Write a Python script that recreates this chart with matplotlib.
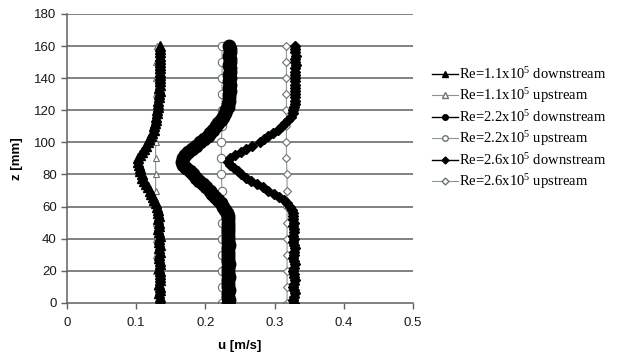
import matplotlib
matplotlib.use('Agg')
import matplotlib.pyplot as plt
from matplotlib.lines import Line2D

# Profile heights, mm
z_down = list(range(0, 162, 2))
z_up = list(range(0, 170, 10))

# Re=1.1x10^5
u11_down = [0.134, 0.135, 0.134, 0.133, 0.134, 0.134, 0.133, 0.134, 0.135, 0.134,
            0.134, 0.133, 0.134, 0.134, 0.133, 0.133, 0.134, 0.133, 0.134, 0.133,
            0.133, 0.134, 0.133, 0.132, 0.133, 0.133, 0.132, 0.133, 0.132, 0.131,
            0.130, 0.128, 0.126, 0.124, 0.122, 0.120, 0.117, 0.114, 0.111, 0.109,
            0.108, 0.106, 0.105, 0.104, 0.103, 0.103, 0.105, 0.108, 0.111, 0.114,
            0.117, 0.119, 0.121, 0.123, 0.125, 0.126, 0.127, 0.128, 0.129, 0.130,
            0.130, 0.131, 0.132, 0.132, 0.133, 0.133, 0.134, 0.133, 0.134, 0.134,
            0.134, 0.135, 0.134, 0.134, 0.135, 0.134, 0.135, 0.134, 0.135, 0.135,
            0.135]
u11_up = [0.130, 0.130, 0.129, 0.129, 0.129, 0.128, 0.128, 0.128, 0.128,
          0.128, 0.128, 0.128, 0.128, 0.128, 0.128, 0.129, 0.130]

# Re=2.2x10^5
u22_down = [0.233, 0.234, 0.233, 0.233, 0.234, 0.233, 0.232, 0.233, 0.234, 0.233,
            0.233, 0.233, 0.234, 0.233, 0.233, 0.232, 0.233, 0.233, 0.234, 0.233,
            0.233, 0.232, 0.233, 0.233, 0.232, 0.233, 0.232, 0.232, 0.231, 0.229,
            0.226, 0.222, 0.218, 0.214, 0.210, 0.206, 0.201, 0.196, 0.191, 0.186,
            0.182, 0.177, 0.172, 0.168, 0.166, 0.167, 0.170, 0.175, 0.181, 0.187,
            0.192, 0.198, 0.203, 0.207, 0.211, 0.215, 0.218, 0.222, 0.225, 0.228,
            0.230, 0.232, 0.233, 0.234, 0.234, 0.234, 0.235, 0.234, 0.235, 0.234,
            0.235, 0.234, 0.235, 0.235, 0.234, 0.235, 0.235, 0.234, 0.235, 0.235,
            0.234]
u22_up = [0.224, 0.224, 0.224, 0.224, 0.224, 0.224, 0.224, 0.224, 0.223,
          0.223, 0.223, 0.224, 0.224, 0.224, 0.224, 0.224, 0.224]

# Re=2.6x10^5
u26_down = [0.328, 0.327, 0.328, 0.329, 0.328, 0.327, 0.328, 0.329, 0.328, 0.328,
            0.327, 0.328, 0.329, 0.328, 0.327, 0.328, 0.328, 0.329, 0.328, 0.327,
            0.328, 0.327, 0.328, 0.328, 0.327, 0.328, 0.327, 0.327, 0.326, 0.325,
            0.322, 0.318, 0.313, 0.307, 0.299, 0.291, 0.283, 0.274, 0.266, 0.259,
            0.252, 0.247, 0.241, 0.236, 0.233, 0.236, 0.243, 0.251, 0.259, 0.268,
            0.279, 0.284, 0.290, 0.298, 0.305, 0.310, 0.315, 0.320, 0.324, 0.326,
            0.327, 0.328, 0.329, 0.329, 0.330, 0.329, 0.330, 0.330, 0.329, 0.330,
            0.330, 0.329, 0.330, 0.330, 0.331, 0.330, 0.330, 0.331, 0.330, 0.330,
            0.330]
u26_up = [0.318, 0.318, 0.318, 0.318, 0.318, 0.318, 0.318, 0.318, 0.318,
          0.317, 0.317, 0.317, 0.317, 0.317, 0.317, 0.317, 0.317]

labels = ['Re=1.1x10$^5$ downstream', 'Re=1.1x10$^5$ upstream',
          'Re=2.2x10$^5$ downstream', 'Re=2.2x10$^5$ upstream',
          'Re=2.6x10$^5$ downstream', 'Re=2.6x10$^5$ upstream']

plt.rcParams['font.family'] = 'Liberation Sans'
plt.rcParams['mathtext.fontset'] = 'custom'
plt.rcParams['mathtext.rm'] = 'Liberation Serif'
plt.rcParams['mathtext.it'] = 'Liberation Serif'

grid_col = '#5a6262'
up_col = '#8a9696'

fig = plt.figure(figsize=(6.21, 3.56), dpi=100)
ax = fig.add_axes([0.108, 0.149, 0.557, 0.812])

# horizontal grid
for zz in range(20, 200, 20):
    ax.axhline(zz, color=grid_col, lw=1.1, zorder=1)

# upstream: thin grey lines, open markers
ax.plot(u11_up, z_up, color=up_col, lw=0.8, marker='^', ms=5,
        mfc='white', mec='#6a7474', mew=0.8, zorder=2)
ax.plot(u22_up, z_up, color=up_col, lw=0.8, marker='o', ms=6,
        mfc='white', mec='#6a7474', mew=0.8, zorder=2)
ax.plot(u26_up, z_up, color=up_col, lw=0.8, marker='D', ms=4.5,
        mfc='white', mec='#6a7474', mew=0.8, zorder=2)

# downstream: dense black markers
ax.plot(u11_down, z_down, color='black', lw=1, marker='^', ms=6.5, zorder=3)
ax.plot(u22_down, z_down, color='black', lw=1, marker='o', ms=9, zorder=3)
ax.plot(u26_down, z_down, color='black', lw=1, marker='D', ms=5.5, zorder=3)

ax.set_xlim(0, 0.5)
ax.set_ylim(0, 180)
ax.set_xticks([0, 0.1, 0.2, 0.3, 0.4, 0.5])
ax.set_xticklabels(['0', '0.1', '0.2', '0.3', '0.4', '0.5'])
ax.set_yticks(range(0, 200, 20))
ax.tick_params(axis='both', direction='out', length=4, width=1,
               color=grid_col, labelsize=9.5, labelcolor='#1a1a1a')
ax.tick_params(axis='x', pad=6)
for s in ['top', 'right']:
    ax.spines[s].set_visible(False)
for s in ['left', 'bottom']:
    ax.spines[s].set_color(grid_col)
    ax.spines[s].set_linewidth(1.1)

ax.set_xlabel('u [m/s]', fontsize=9.5, fontweight='bold', labelpad=8)
ax.set_ylabel('z [mm]', fontsize=9.5, fontweight='bold', labelpad=8)

# legend with smaller markers
handles = [
    Line2D([], [], color='black', lw=1, marker='^', ms=4),
    Line2D([], [], color=up_col, lw=0.8, marker='^', ms=4, mfc='white', mec='#6a7474'),
    Line2D([], [], color='black', lw=1, marker='o', ms=4),
    Line2D([], [], color=up_col, lw=0.8, marker='o', ms=4, mfc='white', mec='#6a7474'),
    Line2D([], [], color='black', lw=1, marker='D', ms=3.5),
    Line2D([], [], color=up_col, lw=0.8, marker='D', ms=3.5, mfc='white', mec='#6a7474'),
]
fig.legend(handles, labels, loc='center left', bbox_to_anchor=(0.695, 0.638),
           frameon=False, borderpad=0, borderaxespad=0, handlelength=1.8,
           handletextpad=0.1, labelspacing=0.28,
           prop={'family': 'Liberation Serif', 'size': 10.5})

fig.savefig('out.png', dpi=100)
